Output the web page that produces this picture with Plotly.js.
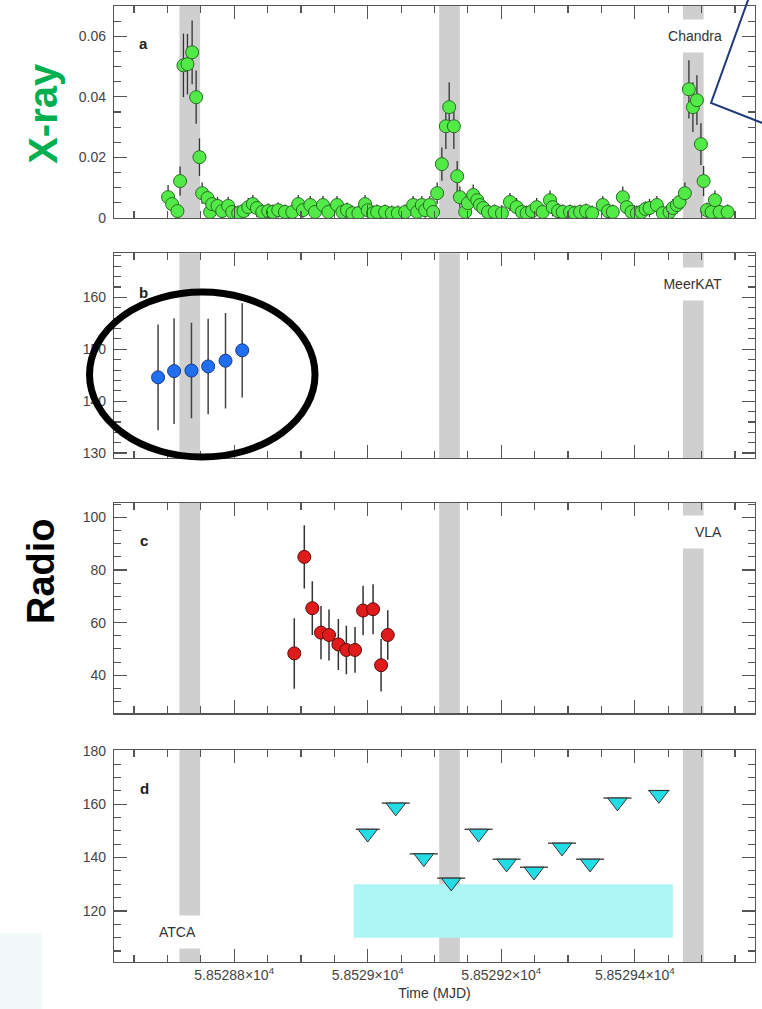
<!DOCTYPE html>
<html>
<head>
<meta charset="utf-8">
<script src="https://cdn.plot.ly/plotly-3.0.1.min.js"></script>
<style>html,body{margin:0;padding:0;background:#fff}</style>
</head>
<body>
<div id="chart" style="width:762px;height:1009px"></div>
<script>
// ---- X-ray light curve (Chandra), count rate vs MJD ----
const xrayT = [
  58528.701, 58528.707, 58528.715, 58528.719, 58528.724, 58528.730, 58528.737, 58528.743, 58528.748, 58528.752,
  58528.760, 58528.764, 58528.767, 58528.775, 58528.782, 58528.791, 58528.797, 58528.806, 58528.814, 58528.821,
  58528.828, 58528.834, 58528.842, 58528.851, 58528.858, 58528.866, 58528.876, 58528.887, 58528.896, 58528.903,
  58528.914, 58528.921, 58528.933, 58528.941, 58528.954, 58528.962, 58528.969, 58528.977, 58528.986, 58528.996,
  58529.000, 58529.008, 58529.014, 58529.026, 58529.036, 58529.045, 58529.056, 58529.068, 58529.074, 58529.081,
  58529.086, 58529.093, 58529.098, 58529.104, 58529.111, 58529.117, 58529.122, 58529.129, 58529.134, 58529.138,
  58529.146, 58529.150, 58529.158, 58529.164, 58529.168, 58529.173, 58529.180, 58529.190, 58529.201, 58529.213,
  58529.223, 58529.231, 58529.238, 58529.246, 58529.253, 58529.262, 58529.273, 58529.277, 58529.285, 58529.292,
  58529.303, 58529.310, 58529.318, 58529.327, 58529.336, 58529.352, 58529.360, 58529.367, 58529.382, 58529.388,
  58529.395, 58529.403, 58529.410, 58529.416, 58529.422, 58529.433, 58529.442, 58529.452, 58529.457, 58529.463,
  58529.467, 58529.475, 58529.481, 58529.487, 58529.493, 58529.499, 58529.503, 58529.508, 58529.515, 58529.520,
  58529.527, 58529.539
];
const xrayRate = [
  0.0069, 0.0046, 0.0023, 0.0122, 0.0504, 0.0508, 0.0547, 0.0399, 0.0201, 0.0082,
  0.0066, 0.0020, 0.0046, 0.0040, 0.0023, 0.0040, 0.0020, 0.0016, 0.0023, 0.0036,
  0.0046, 0.0033, 0.0020, 0.0023, 0.0020, 0.0026, 0.0020, 0.0020, 0.0046, 0.0026,
  0.0043, 0.0020, 0.0043, 0.0020, 0.0043, 0.0020, 0.0026, 0.0016, 0.0016, 0.0046,
  0.0026, 0.0016, 0.0020, 0.0020, 0.0016, 0.0016, 0.0020, 0.0043, 0.0020, 0.0043,
  0.0026, 0.0043, 0.0020, 0.0082, 0.0178, 0.0303, 0.0366, 0.0303, 0.0138, 0.0069,
  0.0020, 0.0049, 0.0076, 0.0059, 0.0043, 0.0033, 0.0020, 0.0020, 0.0016, 0.0053,
  0.0036, 0.0020, 0.0016, 0.0023, 0.0036, 0.0020, 0.0059, 0.0036, 0.0023, 0.0020,
  0.0020, 0.0016, 0.0020, 0.0023, 0.0016, 0.0043, 0.0023, 0.0020, 0.0069, 0.0036,
  0.0020, 0.0016, 0.0020, 0.0030, 0.0033, 0.0043, 0.0016, 0.0020, 0.0033, 0.0043,
  0.0053, 0.0082, 0.0425, 0.0366, 0.0389, 0.0244, 0.0122, 0.0026, 0.0020, 0.0059,
  0.0020, 0.0020
];
const xrayErr = [
  0.0040, 0.0030, 0.0030, 0.0048, 0.0105, 0.0100, 0.0105, 0.0088, 0.0062, 0.0035,
  0.0030, 0.0025, 0.0030, 0.0030, 0.0025, 0.0030, 0.0025, 0.0025, 0.0025, 0.0030,
  0.0030, 0.0030, 0.0025, 0.0025, 0.0025, 0.0025, 0.0025, 0.0025, 0.0030, 0.0025,
  0.0030, 0.0025, 0.0030, 0.0025, 0.0030, 0.0025, 0.0025, 0.0025, 0.0025, 0.0030,
  0.0025, 0.0025, 0.0025, 0.0025, 0.0025, 0.0025, 0.0025, 0.0030, 0.0025, 0.0030,
  0.0025, 0.0030, 0.0025, 0.0035, 0.0055, 0.0075, 0.0082, 0.0075, 0.0050, 0.0035,
  0.0025, 0.0030, 0.0035, 0.0030, 0.0030, 0.0030, 0.0025, 0.0025, 0.0025, 0.0030,
  0.0030, 0.0025, 0.0025, 0.0025, 0.0030, 0.0025, 0.0032, 0.0030, 0.0025, 0.0025,
  0.0025, 0.0025, 0.0025, 0.0025, 0.0025, 0.0030, 0.0025, 0.0025, 0.0035, 0.0030,
  0.0025, 0.0025, 0.0025, 0.0025, 0.0030, 0.0030, 0.0025, 0.0025, 0.0030, 0.0030,
  0.0030, 0.0035, 0.0096, 0.0082, 0.0082, 0.0069, 0.0050, 0.0025, 0.0025, 0.0032,
  0.0025, 0.0025
];

// ---- MeerKAT flux density ----
const meerkatT = [58528.686, 58528.710, 58528.736, 58528.761, 58528.787, 58528.812];
const meerkatFlux = [144.6, 145.8, 145.9, 146.7, 147.8, 149.8];
const meerkatErr = [10.2, 10.2, 9.2, 9.2, 9.2, 9.1];

// ---- VLA flux density ----
const vlaT = [58528.890, 58528.905, 58528.917, 58528.930, 58528.942, 58528.956,
              58528.968, 58528.981, 58528.993, 58529.008, 58529.020, 58529.030];
const vlaFlux = [48.3, 85.0, 65.5, 56.2, 55.3, 51.7, 49.6, 49.6, 64.6, 65.1, 43.8, 55.3];
const vlaErr = [13.4, 12.0, 10.2, 10.1, 9.7, 9.7, 9.2, 8.7, 9.4, 9.5, 10.0, 9.4];

// ---- ATCA upper limits (hourly bins) ----
const atcaT = [58529.000, 58529.042, 58529.084, 58529.125, 58529.166, 58529.208,
               58529.249, 58529.291, 58529.333, 58529.374, 58529.436];
const atcaLimit = [150.6, 160.4, 141.4, 132.3, 150.6, 139.4, 136.4, 145.4, 139.4, 162.3, 165.1];
const atcaHalfBin = [0.018, 0.021, 0.021, 0.021, 0.021, 0.021, 0.021, 0.021, 0.021, 0.021, 0.016];
// full-interval ATCA limit band
const atcaBandT = [58528.979, 58529.457];
const atcaBandFlux = [110, 130];

// ---- X-ray flare windows (grey bands) ----
const flareStart = [58528.718, 58529.107, 58529.472];
const flareEnd = [58528.749, 58529.138, 58529.503];

// ---- time axis ticks ----
const timeTickVals = [58528.8, 58529.0, 58529.2, 58529.4];
const timeTickText = ['5.85288×10<sup>4</sup>', '5.8529×10<sup>4</sup>',
                      '5.85292×10<sup>4</sup>', '5.85294×10<sup>4</sup>'];

// ---- layout constants ----
const FONT = 'Liberation Sans, Arial, Helvetica, sans-serif';
const W = 762, H = 1009;
const M = {l: 114, r: 7, t: 6, b: 47};
const plotH = H - M.t - M.b;
const timeRange = [58528.62, 58529.58];
const dom = {
  a: [0.7782, 1.0],
  b: [0.5269, 0.7413],
  c: [0.2601, 0.4804],
  d: [0.0, 0.2218]
};
const yRange = {
  a: [0, 0.07],
  b: [129, 168.5],
  c: [25.5, 105.6],
  d: [100.9, 180.3]
};

const frame = {
  showline: true, linecolor: '#555', linewidth: 1.2, mirror: 'allticks',
  ticks: 'inside', ticklen: 13, tickwidth: 1.2, tickcolor: '#555',
  showgrid: false, zeroline: false,
  tickfont: {family: FONT, size: 14, color: '#444'},
  minor: {ticks: 'inside', ticklen: 7, tickwidth: 1.1, tickcolor: '#555', showgrid: false}
};

function xAxis(anchor, labels) {
  return Object.assign({}, frame, {
    anchor: anchor, domain: [0, 1], range: timeRange,
    tickmode: 'array', tickvals: timeTickVals, ticktext: timeTickText,
    showticklabels: labels,
    minor: Object.assign({}, frame.minor, {tickmode: 'linear', tick0: timeTickVals[0], dtick: 0.05})
  });
}
function yAxis(anchor, d, r, dtick, minorDtick) {
  return Object.assign({}, frame, {
    anchor: anchor, domain: d, range: r, tickmode: 'linear', tick0: 0, dtick: dtick,
    ticklabelstandoff: 4,
    minor: Object.assign({}, frame.minor, {tickmode: 'linear', tick0: 0, dtick: minorDtick})
  });
}

// triangles hang just below the limit line
const TRI_SIZE = 17;
const pxPerUnitD = plotH * (dom.d[1] - dom.d[0]) / (yRange.d[1] - yRange.d[0]);
const triY = atcaLimit.map(v => v - (TRI_SIZE / 4) / pxPerUnitD);

const traces = [
  {
    x: xrayT, y: xrayRate, xaxis: 'x', yaxis: 'y', type: 'scatter', mode: 'markers',
    error_y: {type: 'data', array: xrayErr, color: '#333', thickness: 1.3, width: 0},
    marker: {size: 13, color: '#52ea46', line: {color: '#2a6a26', width: 1}},
    hoverinfo: 'skip'
  },
  {
    x: meerkatT, y: meerkatFlux, xaxis: 'x2', yaxis: 'y2', type: 'scatter', mode: 'markers',
    error_y: {type: 'data', array: meerkatErr, color: '#444', thickness: 1.5, width: 0},
    marker: {size: 13, color: '#1f6ff0', line: {color: '#1a3a88', width: 1}},
    hoverinfo: 'skip'
  },
  {
    x: vlaT, y: vlaFlux, xaxis: 'x3', yaxis: 'y3', type: 'scatter', mode: 'markers',
    error_y: {type: 'data', array: vlaErr, color: '#333', thickness: 1.5, width: 0},
    marker: {size: 13, color: '#e01b1b', line: {color: '#5a0a0a', width: 1}},
    hoverinfo: 'skip'
  },
  {
    x: atcaT, y: atcaLimit, xaxis: 'x4', yaxis: 'y4', type: 'scatter', mode: 'markers',
    error_x: {type: 'data', array: atcaHalfBin, color: '#333', thickness: 1.3, width: 0},
    marker: {size: 2, color: 'rgba(0,0,0,0)'},
    hoverinfo: 'skip'
  },
  {
    x: atcaT, y: triY, xaxis: 'x4', yaxis: 'y4', type: 'scatter', mode: 'markers',
    marker: {symbol: 'triangle-down', size: TRI_SIZE, color: '#22dde6', line: {color: '#333', width: 1}},
    hoverinfo: 'skip'
  }
];

// shaded regions
const shapes = [];
shapes.push({
  type: 'rect', xref: 'x4', yref: 'y4', layer: 'below',
  x0: atcaBandT[0], x1: atcaBandT[1], y0: atcaBandFlux[0], y1: atcaBandFlux[1],
  fillcolor: '#aef6f6', line: {width: 0}
});
[['x', 'y'], ['x2', 'y2'], ['x3', 'y3'], ['x4', 'y4']].forEach(([xa, ya]) => {
  flareStart.forEach((s, i) => {
    shapes.push({
      type: 'rect', xref: xa, yref: ya + ' domain', layer: 'below',
      x0: s, x1: flareEnd[i], y0: 0, y1: 1,
      fillcolor: 'rgba(128,128,128,0.38)', line: {width: 0}
    });
  });
});
// highlight ring around the MeerKAT points
shapes.push({
  type: 'circle', xref: 'paper', yref: 'paper', layer: 'above',
  x0: -0.0382, x1: 0.3136, y0: 0.5282, y1: 0.7008,
  line: {color: '#000', width: 7}, fillcolor: 'rgba(0,0,0,0)'
});
// callout edge at the top right
shapes.push({
  type: 'path', xref: 'paper', yref: 'paper', layer: 'above',
  path: 'M 0.9914 1.0105 L 0.9314 0.8985 L 1.0312 0.8724',
  line: {color: '#1f3a7a', width: 2}
});
// pale patch at the lower left
shapes.push({
  type: 'rect', xref: 'paper', yref: 'paper', layer: 'below',
  x0: -0.1778, x1: -0.1123, y0: -0.06, y1: 0.0303,
  fillcolor: '#f3f8f8', line: {width: 0}
});

const instLabel = {font: {family: FONT, size: 14, color: '#333'}, bgcolor: '#fff',
                   borderpad: 0, width: 62, height: 32, showarrow: false,
                   xref: 'paper', yref: 'paper', valign: 'middle'};
const panelLetter = {font: {family: FONT, size: 15, color: '#222', weight: 'bold'},
                     showarrow: false, xref: 'paper', yref: 'paper', xanchor: 'left', yanchor: 'middle'};

const annotations = [
  Object.assign({}, instLabel, {text: 'Chandra', x: 0.9501, y: 0.9686, xanchor: 'right', yanchor: 'middle', align: 'right'}),
  Object.assign({}, instLabel, {text: 'MeerKAT', x: 0.9501, y: 0.7092, xanchor: 'right', yanchor: 'middle', align: 'right'}),
  Object.assign({}, instLabel, {text: 'VLA', x: 0.9501, y: 0.4498, xanchor: 'right', yanchor: 'middle', align: 'right'}),
  Object.assign({}, instLabel, {text: 'ATCA', x: 0.0686, y: 0.0314, xanchor: 'left', yanchor: 'middle', align: 'left'}),
  Object.assign({}, panelLetter, {text: 'a', x: 0.0359, y: 0.9603}),
  Object.assign({}, panelLetter, {text: 'b', x: 0.0359, y: 0.7008}),
  Object.assign({}, panelLetter, {text: 'c', x: 0.0374, y: 0.4404}),
  Object.assign({}, panelLetter, {text: 'd', x: 0.0374, y: 0.1820}),
  {text: 'X-ray', x: -0.1108, y: 0.8882, xref: 'paper', yref: 'paper', textangle: -90,
   showarrow: false, xanchor: 'center', yanchor: 'middle',
   font: {family: FONT, size: 40, color: '#00b050', weight: 'bold'}},
  {text: 'Radio', x: -0.1139, y: 0.4090, xref: 'paper', yref: 'paper', textangle: -90,
   showarrow: false, xanchor: 'center', yanchor: 'middle',
   font: {family: FONT, size: 38, color: '#000', weight: 'bold'}}
];

const layout = {
  width: W, height: H, margin: M,
  paper_bgcolor: '#fff', plot_bgcolor: '#fff',
  showlegend: false,
  font: {family: FONT, size: 14, color: '#444'},
  xaxis: xAxis('y', false),
  xaxis2: xAxis('y2', false),
  xaxis3: xAxis('y3', false),
  xaxis4: Object.assign(xAxis('y4', true), {
    title: {text: 'Time (MJD)', font: {family: FONT, size: 14, color: '#333'}, standoff: 6}
  }),
  yaxis: yAxis('x', dom.a, yRange.a, 0.02, 0.005),
  yaxis2: yAxis('x2', dom.b, yRange.b, 10, 2),
  yaxis3: yAxis('x3', dom.c, yRange.c, 20, 5),
  yaxis4: yAxis('x4', dom.d, yRange.d, 20, 5),
  shapes: shapes,
  annotations: annotations
};

Plotly.newPlot('chart', traces, layout, {displayModeBar: false, staticPlot: true});
</script>
</body>
</html>
